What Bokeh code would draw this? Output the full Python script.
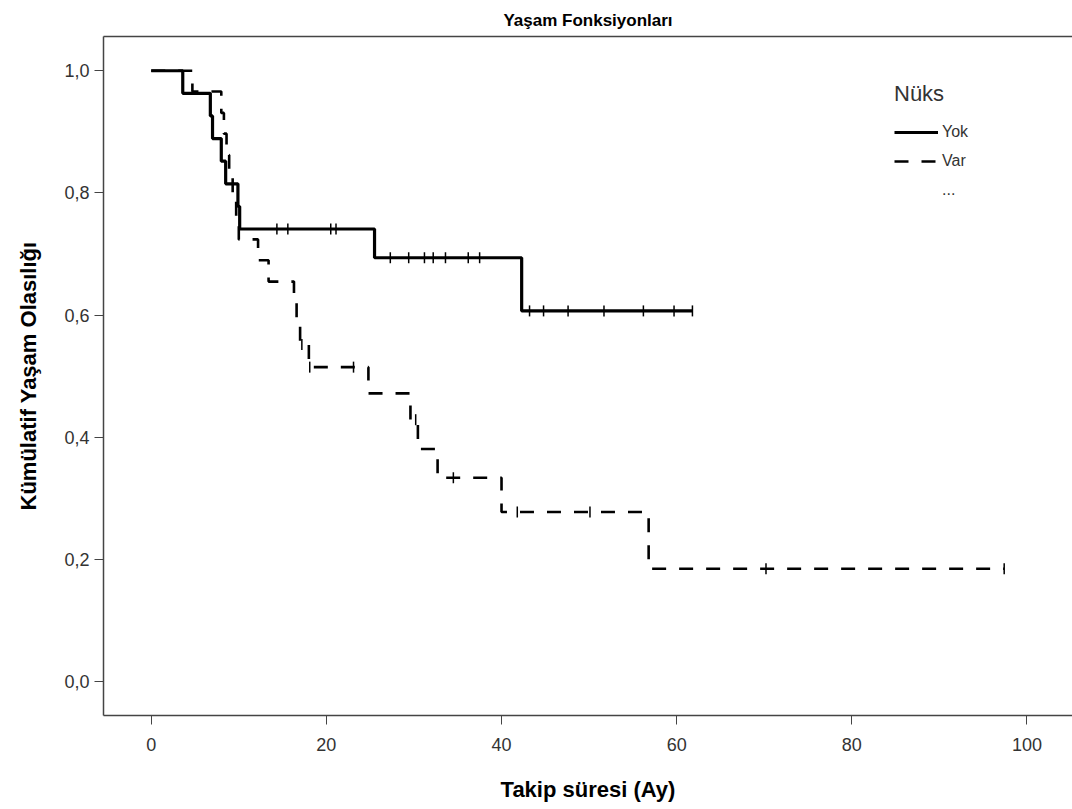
import numpy as np
from bokeh.plotting import figure
from bokeh.models import Range1d, FixedTicker, Legend, LegendItem, LinearAxis
from bokeh.embed import file_html
from bokeh.resources import INLINE

# ---- data ----
yok_t = [0, 3.6, 6.75, 7.0, 8.0, 8.5, 9.9, 10.1, 25.5, 42.3, 61.8]
yok_s = [1.0, 0.963, 0.926, 0.889, 0.852, 0.815, 0.778, 0.741, 0.694, 0.607, 0.607]
yok_cens_t = [14.35, 15.6, 20.5, 21.1, 27.3, 29.4, 31.2, 32.2, 33.6, 36.2, 37.5,
              43.2, 44.8, 47.6, 51.7, 56.2, 59.7, 61.8]
yok_cens_s = [0.741, 0.741, 0.741, 0.741, 0.694, 0.694, 0.694, 0.694, 0.694, 0.694, 0.694,
              0.607, 0.607, 0.607, 0.607, 0.607, 0.607, 0.607]

var_t = [0, 4.7, 8.0, 8.3, 8.6, 8.9, 9.3, 9.7, 10.0, 12.2, 13.4, 16.3, 16.6, 17.0,
         18.0, 24.8, 29.6, 30.45, 32.7, 40.0, 56.8, 97.4]
var_s = [1.0, 0.966, 0.931, 0.897, 0.862, 0.828, 0.793, 0.759, 0.724, 0.690, 0.655,
         0.621, 0.586, 0.552, 0.515, 0.472, 0.429, 0.381, 0.334, 0.278, 0.185, 0.185]
var_cens_t = [17.2, 18.1, 23.1, 30.2, 34.5, 41.8, 50.1, 70.2, 97.4]
var_cens_s = [0.552, 0.515, 0.515, 0.429, 0.334, 0.278, 0.278, 0.185, 0.185]

x_ticks = [0, 20, 40, 60, 80, 100]
y_ticks = [0.0, 0.2, 0.4, 0.6, 0.8, 1.0]
y_tick_labels = ["0,0", "0,2", "0,4", "0,6", "0,8", "1,0"]

FONT = "Liberation Sans"

p = figure(width=1072, height=806, output_backend="svg", toolbar_location=None,
           x_range=Range1d(-5.45, 105.2), y_range=Range1d(-0.055, 1.056),
           min_border_left=103, min_border_right=0, min_border_bottom=91, min_border_top=36)

p.title.text = "Yaşam Fonksiyonları"
p.title.align = "center"
p.title.text_font = FONT
p.title.text_font_style = "bold"
p.title.text_font_size = "17px"
p.title.text_color = "#000000"
p.title.standoff = 14

p.grid.visible = False
p.outline_line_color = None
p.background_fill_color = "white"
p.border_fill_color = "white"

xax = p.below[0]
yax = p.left[0]

for ax in (xax, yax):
    ax.axis_line_color = "#444444"
    ax.axis_line_width = 1.5
    ax.major_tick_line_color = "#444444"
    ax.major_tick_line_width = 1
    ax.major_tick_out = 9
    ax.major_tick_in = 0
    ax.minor_tick_line_color = None
    ax.major_label_text_font = FONT
    ax.major_label_text_font_size = "18px"
    ax.major_label_text_color = "#333333"
    ax.axis_label_text_font = FONT
    ax.axis_label_text_font_size = "22px"
    ax.axis_label_text_font_style = "bold"
    ax.axis_label_text_color = "#000000"

xax.ticker = FixedTicker(ticks=x_ticks)
yax.ticker = FixedTicker(ticks=y_ticks)
yax.major_label_overrides = {v: l for v, l in zip(y_ticks, y_tick_labels)}
xax.axis_label = "Takip süresi (Ay)"
yax.axis_label = "Kümülatif Yaşam Olasılığı"
xax.major_label_standoff = 13
yax.major_label_standoff = 5
xax.axis_label_standoff = 23
yax.axis_label_standoff = 20

# top frame line (no right edge visible in the reference)
top = LinearAxis(ticker=FixedTicker(ticks=[]), axis_line_color="#444444",
                 axis_line_width=1.5, major_label_text_font_size="0px",
                 major_tick_line_color=None, minor_tick_line_color=None,
                 major_tick_out=0, major_tick_in=0, major_label_standoff=0)
p.add_layout(top, "above")

r_yok = p.step(yok_t, yok_s, mode="after", line_color="black", line_width=3.2)
r_var = p.step(var_t, var_s, mode="after", line_color="black", line_width=2.6,
               line_dash="14 13")
p.scatter(yok_cens_t, yok_cens_s, marker="dash", angle=np.pi / 2, size=11,
          line_color="black", line_width=1.5)
p.scatter(var_cens_t, var_cens_s, marker="dash", angle=np.pi / 2, size=11,
          line_color="black", line_width=1.5)
r_dummy = p.scatter([], [], marker="dash", line_alpha=0, fill_alpha=0)

legend = Legend(items=[LegendItem(label="Yok", renderers=[r_yok]),
                       LegendItem(label="Var", renderers=[r_var]),
                       LegendItem(label="...", renderers=[r_dummy])],
                location=(791, 512))
legend.title = "Nüks"
legend.title_text_font = FONT
legend.title_text_font_size = "22px"
legend.title_text_font_style = "normal"
legend.title_text_color = "#333333"
legend.title_standoff = 12
legend.label_text_font = FONT
legend.label_text_font_size = "16px"
legend.label_text_color = "#333333"
legend.label_height = 26
legend.glyph_height = 26
legend.border_line_color = None
legend.background_fill_alpha = 0
legend.glyph_width = 44
legend.spacing = 3
legend.label_standoff = 4
p.add_layout(legend)

open("out.html", "w").write(file_html(p, INLINE))
